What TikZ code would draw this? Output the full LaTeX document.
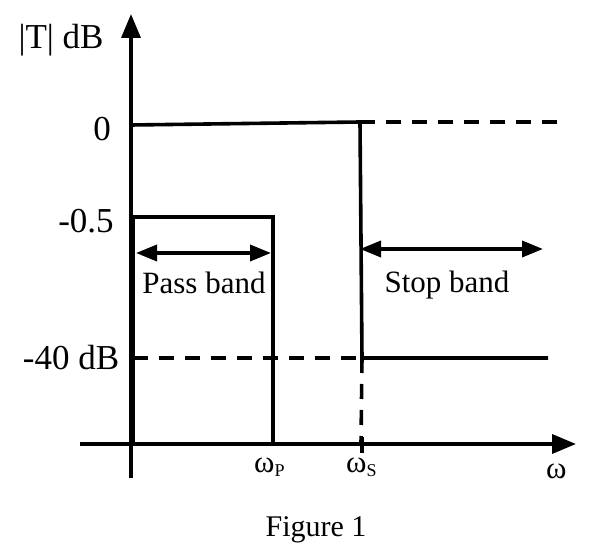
\documentclass[tikz,border=0pt]{standalone}
\usepackage{fontspec}
\setmainfont{Liberation Serif}
\usetikzlibrary{arrows.meta}
\begin{document}
\begin{tikzpicture}[x=1pt,y=-1pt,
  ln/.style={line width=3.6pt},
  dsh/.style={line width=3.6pt,dash pattern=on 15pt off 11pt},
  axarrow/.style={line width=3.6pt,-{Triangle[length=24pt,width=19pt]}},
  dblarrow/.style={line width=3.6pt,{Triangle[length=21pt,width=16pt]}-{Triangle[length=21pt,width=16pt]}},
  lbl/.style={inner sep=0pt,font=\fontsize{35}{38}\selectfont},
  blbl/.style={inner sep=0pt,font=\fontsize{31}{34}\selectfont}]
\useasboundingbox (0,0) rectangle (590,559);
% coordinates
\coordinate (ybot) at (131,478);
\coordinate (ytop) at (131,14);
\coordinate (xl) at (80,444);
\coordinate (xr) at (576,444);
\coordinate (z0) at (131,125);
\coordinate (zs) at (360,122);
\coordinate (zd) at (564,122);
\coordinate (sb) at (362,358);
\coordinate (se) at (548,358);
\coordinate (f40) at (133,358);
\coordinate (saxis) at (361,444);
\coordinate (p0) at (133,444);
\coordinate (p1) at (133,217);
\coordinate (p2) at (273,217);
\coordinate (p3) at (273,444);
\coordinate (pa) at (136,253);
\coordinate (pb) at (271,253);
\coordinate (sa) at (360,249);
\coordinate (sc) at (543,249);
\coordinate (t1) at (362,437);
\coordinate (t2) at (362,453);
% axes
\draw[axarrow] (ybot) -- (ytop);
\draw[axarrow] (xl) -- (xr);
% response
\draw[ln] (z0) -- (zs) -- (sb) -- (se);
\draw[dsh] (zs) -- (zd);
\draw[dsh] (f40) -- (sb);
\draw[dsh] (sb) -- (saxis);
\draw[ln] (t1) -- (t2);
% pass box
\draw[ln] (p0) -- (p1) -- (p2) -- (p3);
\draw[dblarrow] (pa) -- (pb);
\draw[dblarrow] (sa) -- (sc);
% labels
\node[lbl] (ylab) at (61,40) {|T| dB};
\node[lbl] (l0) at (102,129) {0};
\node[lbl] (l05) at (86,221) {-0.5};
\node[lbl] (l40) at (71,358) {-40 dB};
\node[blbl] (pband) at (204,283) {Pass band};
\node[blbl] (sband) at (447,285) {Stop band};
\node[blbl,anchor=base west] (wp) at (254,472) {ω\raisebox{-4pt}{\fontsize{18}{19}\selectfont P}};
\node[blbl,anchor=base west] (ws) at (346,472) {ω\raisebox{-4pt}{\fontsize{18}{19}\selectfont S}};
\node[blbl,anchor=base west] (w) at (546,478) {ω};
\node[blbl] (fig) at (316,530) {\fontsize{30}{32}\selectfont Figure 1};
\end{tikzpicture}
\end{document}
